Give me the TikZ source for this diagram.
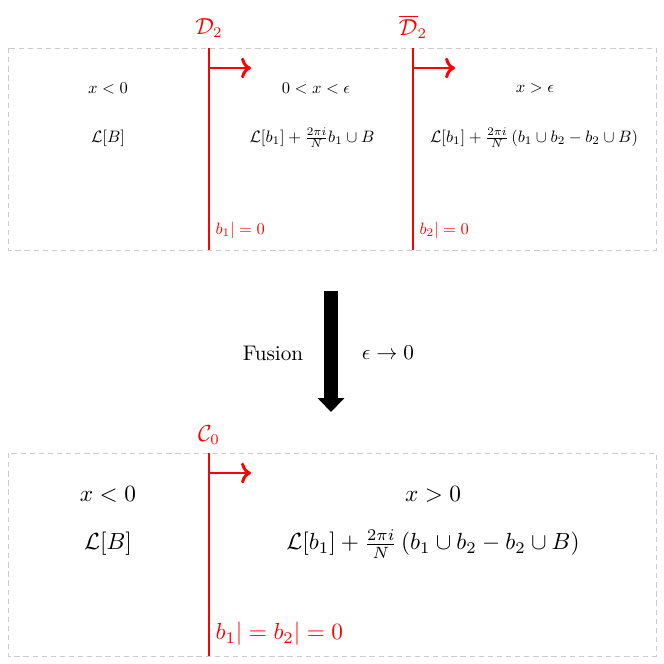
\documentclass[tikz,border=0pt]{standalone}
\usepackage{amsmath,amssymb,graphicx}
\usetikzlibrary{arrows.meta}
\newcommand{\shrunk}[1]{\scalebox{0.78}{#1}}
\newcommand{\grown}[1]{\scalebox{1.1}{#1}}
\tikzset{
  region/.style={draw=gray!40, dash pattern=on 2.5pt off 1.8pt, line width=0.4pt},
  wall/.style={draw=red, line width=1.4pt},
  orient/.style={draw=red, line width=1.4pt, ->},
  wallname/.style={text=red, font=\fontsize{10.5}{12}\selectfont, inner sep=1pt},
  smallbc/.style={text=red, anchor=west, inner sep=1pt},
  bigbc/.style={text=red, anchor=west, inner sep=1pt},
  smalltxt/.style={inner sep=1pt},
  bigtxt/.style={inner sep=1pt},
  fuse/.style={line width=6.8pt, -{Triangle[length=6.6pt,width=12.3pt]}}
}
\begin{document}
\begin{tikzpicture}[x=0.0166cm, y=-0.0166cm]
\useasboundingbox (0,0) rectangle (664,664);
% before fusion
\draw[region] (8,48) rectangle (656,250);
\coordinate (d2top) at (209,48);
\coordinate (d2bot) at (209,250);
\coordinate (d2arr) at (209,68);
\coordinate (d2tip) at (251,68);
\coordinate (dbtop) at (413,48);
\coordinate (dbbot) at (413,250);
\coordinate (dbarr) at (413,68);
\coordinate (dbtip) at (455,68);
\draw[wall] (d2top) -- (d2bot);
\draw[wall] (dbtop) -- (dbbot);
\draw[orient] (d2arr) -- (d2tip);
\draw[orient] (dbarr) -- (dbtip);
\node[wallname] (d2) at (209,28) {$\mathcal{D}_2$};
\node[wallname] (db) at (413,27) {$\overline{\mathcal{D}}_2$};
\node[smalltxt] (xa) at (108,88) {\shrunk{$x<0$}};
\node[smalltxt] (la) at (108,138) {\shrunk{$\mathcal{L}[B]$}};
\node[smalltxt] (xb) at (316,88) {\shrunk{$0<x<\epsilon$}};
\node[smalltxt] (lb) at (312,138) {\shrunk{$\mathcal{L}[b_1]+\frac{2\pi i}{N}b_1\cup B$}};
\node[smalltxt] (xc) at (535,88) {\shrunk{$x>\epsilon$}};
\node[smalltxt] (lc) at (534,138) {\shrunk{$\mathcal{L}[b_1]+\frac{2\pi i}{N}\left(b_1\cup b_2-b_2\cup B\right)$}};
\node[smallbc] (bca) at (213,230) {\shrunk{$b_1|=0$}};
\node[smallbc] (bcb) at (417,230) {\shrunk{$b_2|=0$}};
% fusion
\coordinate (ftop) at (331,291);
\coordinate (fbot) at (331,412);
\draw[fuse] (ftop) -- (fbot);
\node (fus) at (273,353) {Fusion};
\node (lim) at (388,353) {$\epsilon\to 0$};
% after fusion
\draw[region] (8,453) rectangle (656,656);
\coordinate (c0top) at (209,453);
\coordinate (c0bot) at (209,656);
\coordinate (c0arr) at (209,473);
\coordinate (c0tip) at (251,473);
\draw[wall] (c0top) -- (c0bot);
\draw[orient] (c0arr) -- (c0tip);
\node[wallname] (c0) at (209,435) {$\mathcal{C}_0$};
\node[bigtxt] (xd) at (108,494) {\grown{$x<0$}};
\node[bigtxt] (ld) at (108,544) {\grown{$\mathcal{L}[B]$}};
\node[bigtxt] (xe) at (433,494) {\grown{$x>0$}};
\node[bigtxt] (le) at (433,544) {\grown{$\mathcal{L}[b_1]+\frac{2\pi i}{N}\left(b_1\cup b_2-b_2\cup B\right)$}};
\node[bigbc] (bcc) at (213,634) {\grown{$b_1|=b_2|=0$}};
\end{tikzpicture}
\end{document}
